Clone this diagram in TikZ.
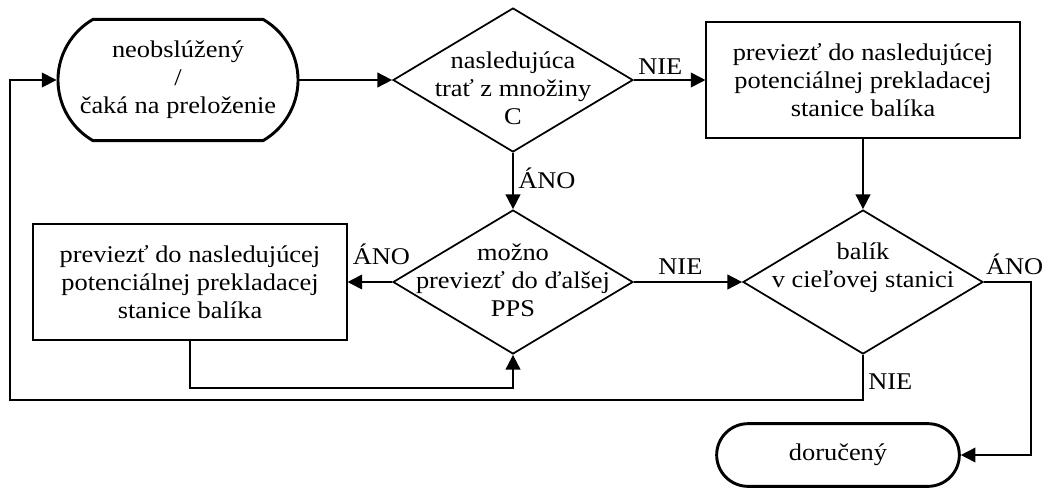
\documentclass[tikz,border=0pt]{standalone}
\usepackage{fontspec}
\setmainfont{Liberation Serif}[FakeStretch=1.1]
\usetikzlibrary{shapes.geometric,shapes.misc,arrows.meta}

\begin{document}
\begin{tikzpicture}[x=0.75pt,y=-0.75pt,
	every node/.style={font=\fontsize{18}{21}\selectfont,align=center},
	term/.style={draw,line width=2.2pt,rounded rectangle,inner sep=0pt},
	box/.style={draw,line width=1.3pt,rectangle,minimum width=235pt,minimum height=87pt,inner sep=0pt},
	decision/.style={draw,line width=1.3pt,diamond,minimum width=180pt,minimum height=108pt,inner sep=0pt},
	arr/.style={line width=1.3pt,-{Triangle[length=11pt,width=11pt]}}]
\useasboundingbox (0,0) rectangle (1050,487);
\node[term,minimum width=180pt,minimum height=91pt,rounded rectangle arc length=120] (start) at (178,80) {neobslúžený\\/\\čaká na preloženie};
\node[decision] (d1) at (513,80) {};
\node (t1) at (513,88) {nasledujúca\\trať z množiny\\C};
\node[box] (b1) at (863,80) {previezť do nasledujúcej\\potenciálnej prekladacej\\stanice balíka};
\node[decision] (d2) at (513,282) {};
\node (t2) at (513,280) {možno\\previezť do ďalšej\\PPS};
\node[decision] (d3) at (863,282) {};
\node (t3) at (863,268) {balík\\v cieľovej stanici};
\node[box] (b2) at (190,282) {previezť do nasledujúcej\\potenciálnej prekladacej\\stanice balíka};
\node[term,minimum width=182pt,minimum height=47pt] (stop) at (838,455) {doručený};
\coordinate (back) at (10,400);

\draw[arr] (start.east) -- (d1.west);
\draw[arr] (d1.east) -- node[above,pos=0.37] {NIE} (b1.west);
\draw[arr] (d1.south) -- node[right,pos=0.45] {ÁNO} (d2.north);
\draw[arr] (b1.south) -- (d3.north);
\draw[arr] (d2.east) -- node[above=2pt,pos=0.43] {NIE} (d3.west);
\draw[arr] (d2.west) -- node[above=9pt,pos=0.24] {ÁNO} (b2.east);
\draw[arr] (b2.south) -- ++(0,47) -| (d2.south);
\draw[arr] (d3.east) -- node[pos=0,anchor=south west,inner sep=1pt,yshift=4pt] {ÁNO} ++(47,0) |- (stop.east);
\draw[arr] (d3.south) |- node[right,pos=0.3] {NIE} (back) |- (start.west);
\end{tikzpicture}
\end{document}
